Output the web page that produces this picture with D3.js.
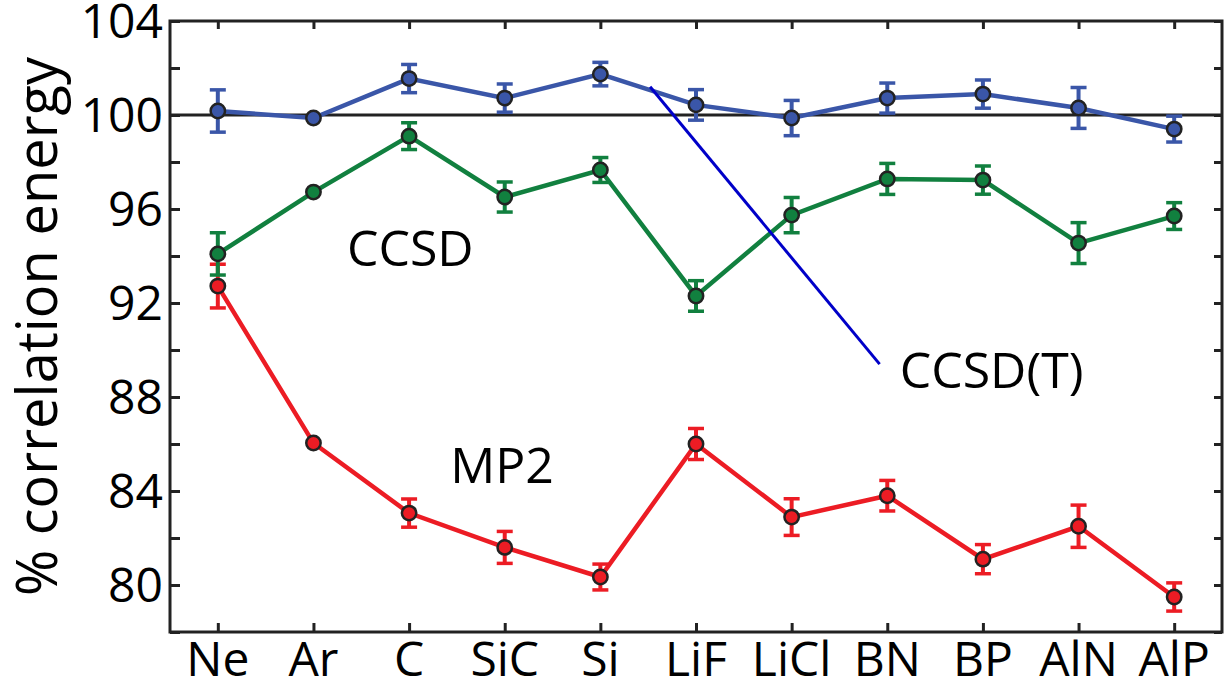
<!DOCTYPE html>
<html>
<head>
<meta charset="utf-8">
<script src="https://cdn.jsdelivr.net/npm/d3@7"></script>
<style>
  body { margin: 0; background: #fff; }
  text { font-family: "Open Sans", sans-serif; fill: #000; }
</style>
</head>
<body>
<div id="chart"></div>
<script>
// systems along the x axis
const categories = ["Ne", "Ar", "C", "SiC", "Si", "LiF", "LiCl", "BN", "BP", "AlN", "AlP"];

// % correlation energy and error bar half-widths
const ccsdtValues = [100.17, 99.87, 101.55, 100.72, 101.74, 100.43, 99.87, 100.72, 100.89, 100.3, 99.4];
const ccsdtErrors = [0.9, 0, 0.6, 0.6, 0.5, 0.65, 0.75, 0.64, 0.6, 0.87, 0.55];
const ccsdValues = [94.09, 96.72, 99.1, 96.51, 97.66, 92.3, 95.74, 97.28, 97.23, 94.55, 95.7];
const ccsdErrors = [0.9, 0, 0.57, 0.64, 0.53, 0.65, 0.75, 0.66, 0.6, 0.87, 0.57];
const mp2Values = [92.72, 86.04, 83.06, 81.6, 80.34, 86.0, 82.89, 83.8, 81.1, 82.5, 79.49];
const mp2Errors = [0.93, 0, 0.6, 0.68, 0.55, 0.66, 0.78, 0.65, 0.62, 0.9, 0.6];

const yTickLabels = [80, 84, 88, 92, 96, 100, 104];
const yMinorTicks = d3.range(78, 105, 2);

const width = 1227;
const height = 687;
const margin = { top: 21, right: 5, bottom: 55, left: 170 };
const innerW = width - margin.left - margin.right;
const innerH = height - margin.top - margin.bottom;

const svg = d3.select("#chart")
  .append("svg")
  .attr("width", width)
  .attr("height", height);

const g = svg.append("g")
  .attr("transform", `translate(${margin.left}, ${margin.top})`);

const x = d3.scalePoint()
  .domain(categories)
  .range([0, innerW])
  .padding(0.5);

// fractional index scale, used for annotations placed between categories
const xi = d3.scaleLinear()
  .domain([0, categories.length - 1])
  .range([x(categories[0]), x(categories[categories.length - 1])]);

const y = d3.scaleLinear()
  .domain([78, 104])
  .range([innerH, 0]);

const axisColor = "#222";

// ticks, all pointing inward
g.append("g")
  .call(d3.axisLeft(y).tickValues(yMinorTicks).tickSize(-10).tickFormat(""))
  .call(a => a.select(".domain").remove())
  .selectAll("line").attr("stroke", axisColor).attr("stroke-width", 3);

g.append("g")
  .attr("transform", `translate(${innerW}, 0)`)
  .call(d3.axisRight(y).tickValues(yMinorTicks).tickSize(-8).tickFormat(""))
  .call(a => a.select(".domain").remove())
  .selectAll("line").attr("stroke", axisColor).attr("stroke-width", 3);

g.append("g")
  .attr("transform", `translate(0, ${innerH})`)
  .call(d3.axisBottom(x).tickSize(-9).tickFormat(""))
  .call(a => a.select(".domain").remove())
  .selectAll("line").attr("stroke", axisColor).attr("stroke-width", 3);

g.append("g")
  .call(d3.axisTop(x).tickSize(-8).tickFormat(""))
  .call(a => a.select(".domain").remove())
  .selectAll("line").attr("stroke", axisColor).attr("stroke-width", 3);

// tick labels
g.selectAll(".ylabel")
  .data(yTickLabels)
  .enter()
  .append("text")
  .attr("class", "ylabel")
  .attr("x", -7)
  .attr("y", d => y(d))
  .attr("dy", "0.36em")
  .attr("text-anchor", "end")
  .style("font-size", "48px")
  .text(d => d);

g.selectAll(".xlabel")
  .data(categories)
  .enter()
  .append("text")
  .attr("class", "xlabel")
  .attr("x", d => x(d))
  .attr("y", innerH + 44)
  .attr("text-anchor", "middle")
  .style("font-size", "48px")
  .text(d => d);

// axis title
svg.append("text")
  .attr("transform", `translate(57, ${margin.top + y(91)}) rotate(-90)`)
  .attr("text-anchor", "middle")
  .style("font-size", "56px")
  .text("% correlation energy");

// frame
g.append("rect")
  .attr("width", innerW)
  .attr("height", innerH)
  .attr("fill", "none")
  .attr("stroke", axisColor)
  .attr("stroke-width", 3);

// 100 % reference line
g.append("line")
  .attr("x1", 0)
  .attr("x2", innerW)
  .attr("y1", y(100))
  .attr("y2", y(100))
  .attr("stroke", axisColor)
  .attr("stroke-width", 3);

const series = [
  { name: "MP2", values: mp2Values, errors: mp2Errors, color: "#ec1c24" },
  { name: "CCSD", values: ccsdValues, errors: ccsdErrors, color: "#11803f" },
  { name: "CCSD(T)", values: ccsdtValues, errors: ccsdtErrors, color: "#3a56a8" }
];

const line = d3.line()
  .x((d, i) => x(categories[i]))
  .y(d => y(d));

series.forEach(s => {
  const sg = g.append("g");

  sg.append("path")
    .datum(s.values)
    .attr("d", line)
    .attr("fill", "none")
    .attr("stroke", s.color)
    .attr("stroke-width", 4.5);

  const pts = s.values.map((v, i) => ({ c: categories[i], v: v, e: s.errors[i] }))
    .filter(d => d.e > 0);

  sg.selectAll(".bar")
    .data(pts)
    .enter()
    .append("line")
    .attr("x1", d => x(d.c))
    .attr("x2", d => x(d.c))
    .attr("y1", d => y(d.v - d.e))
    .attr("y2", d => y(d.v + d.e))
    .attr("stroke", s.color)
    .attr("stroke-width", 4);

  [-1, 1].forEach(sign => {
    sg.selectAll(null)
      .data(pts)
      .enter()
      .append("line")
      .attr("x1", d => x(d.c) - 8)
      .attr("x2", d => x(d.c) + 8)
      .attr("y1", d => y(d.v + sign * d.e))
      .attr("y2", d => y(d.v + sign * d.e))
      .attr("stroke", s.color)
      .attr("stroke-width", 3.5);
  });

  sg.selectAll("circle")
    .data(s.values)
    .enter()
    .append("circle")
    .attr("cx", (d, i) => x(categories[i]))
    .attr("cy", d => y(d))
    .attr("r", 7.2)
    .attr("fill", s.color)
    .attr("stroke", "#222")
    .attr("stroke-width", 2.5);
});

// annotations
g.append("line")
  .attr("x1", xi(4.52))
  .attr("y1", y(101.2))
  .attr("x2", xi(6.92))
  .attr("y2", y(89.4))
  .attr("stroke", "#0000c8")
  .attr("stroke-width", 3);

const notes = [
  { text: "CCSD", at: 1.35, v: 93.57 },
  { text: "MP2", at: 2.43, v: 84.34 },
  { text: "CCSD(T)", at: 7.13, v: 88.38 }
];

g.selectAll(".note")
  .data(notes)
  .enter()
  .append("text")
  .attr("class", "note")
  .attr("x", d => xi(d.at))
  .attr("y", d => y(d.v))
  .style("font-size", "50px")
  .text(d => d.text);
</script>
</body>
</html>
